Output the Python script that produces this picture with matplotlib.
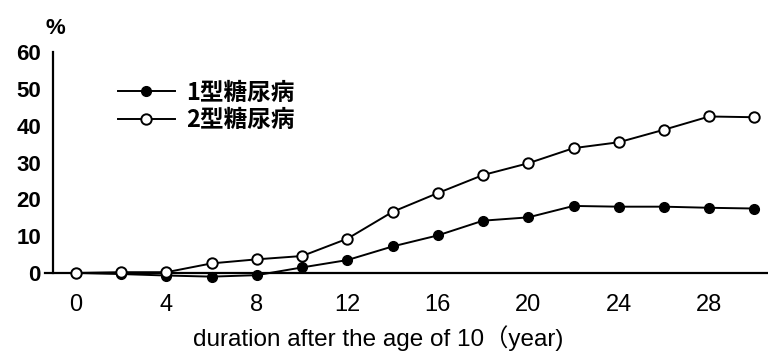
import matplotlib
matplotlib.use('Agg')
import matplotlib.pyplot as plt

years = [0, 2, 4, 6, 8, 10, 12, 14, 16, 18, 20, 22, 24, 26, 28, 30]
type1 = [0, -0.3, -0.7, -1.0, -0.6, 1.5, 3.5, 7.2, 10.2, 14.2, 15.1, 18.2, 18.0, 18.0, 17.7, 17.5]
type2 = [0, 0.2, 0.2, 2.6, 3.7, 4.6, 9.3, 16.6, 21.7, 26.6, 29.8, 33.9, 35.5, 38.9, 42.5, 42.3]
xticks = [0, 4, 8, 12, 16, 20, 24, 28]
yticks = [0, 10, 20, 30, 40, 50, 60]
labels = ['1型糖尿病', '2型糖尿病']

plt.rcParams['font.family'] = ['Liberation Sans', 'Noto Sans CJK JP', 'DejaVu Sans']

fig = plt.figure(figsize=(7.68, 3.53), dpi=100)
ax = fig.add_axes([0.0592, 0.1955, 0.9408, 0.657])

ax.plot(years, type1, color='black', lw=1.4, marker='o', ms=7,
        mfc='black', mec='black', label=labels[0], zorder=3)
ax.plot(years, type2, color='black', lw=1.4, marker='o', ms=7.5,
        mfc='white', mec='black', mew=1.4, label=labels[1], zorder=4)

ax.set_xlim(-1.35, 30.6)
ax.set_ylim(-3, 60)

ax.spines['top'].set_visible(False)
ax.spines['right'].set_visible(False)
ax.spines['left'].set_position(('data', -1))
ax.spines['left'].set_bounds(0, 60)
ax.spines['bottom'].set_position(('data', 0))
for s in ('left', 'bottom'):
    ax.spines[s].set_linewidth(1.6)

ax.set_xticks(xticks)
ax.set_yticks(yticks)
ax.tick_params(axis='x', length=0, pad=15, labelsize=17)
ax.tick_params(axis='y', length=0, pad=9, labelsize=16)
for t in ax.get_yticklabels():
    t.set_fontweight('bold')

ax.set_xlabel('duration after the age of 10（year)', fontsize=17.5, labelpad=7)
ax.xaxis.label.set_x(0.46)

fig.text(46 / 768, 1 - 34 / 353, '%', fontsize=16, fontweight='bold')

leg = ax.legend(loc='center left', bbox_to_anchor=(118 / 768, 1 - 106.5 / 353),
                bbox_transform=fig.transFigure, frameon=False, handlelength=2.4,
                handletextpad=0.5, labelspacing=0.15, borderpad=0, borderaxespad=0,
                prop={'family': ['Noto Sans CJK JP'], 'size': 17, 'weight': 'bold'})

fig.savefig('out.png', dpi=100)
